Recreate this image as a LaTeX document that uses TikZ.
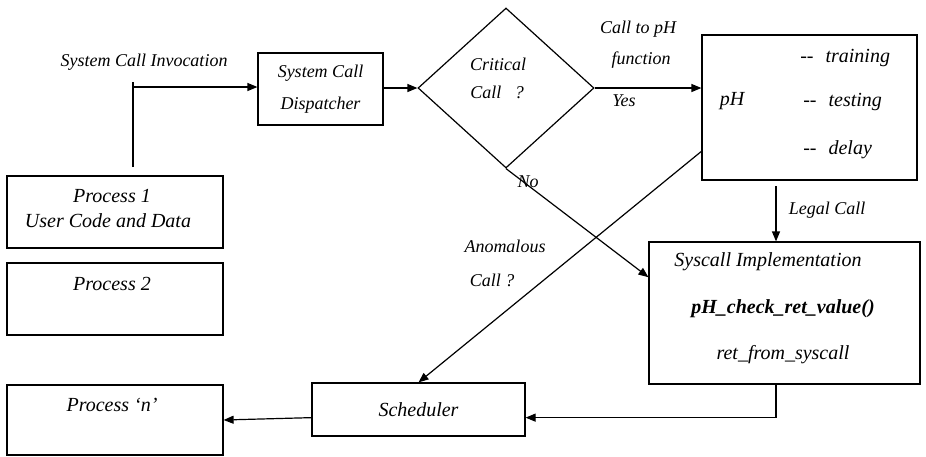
\documentclass[tikz,border=0pt]{standalone}
\usepackage{fontspec}
\setmainfont{Liberation Serif}
\usetikzlibrary{shapes.geometric,arrows.meta,calc}
\begin{document}
\begin{tikzpicture}[x=0.5pt,y=-0.5pt,line width=0.6pt,
    lbl/.style={font=\fontsize{9}{16}\selectfont\itshape},
    txt/.style={font=\fontsize{10}{12}\selectfont\itshape},
    box/.style={draw,inner sep=0pt},
    arr/.style={-{Triangle[length=5pt,width=4pt]}}]
  \useasboundingbox (0,0) rectangle (926,456);
  \node[box,minimum width=108pt,minimum height=36pt] (p1) at (115,212) {};
  \node[box,minimum width=108pt,minimum height=36pt] (p2) at (115,299) {};
  \node[box,minimum width=108pt,minimum height=35pt] (pn) at (115,420) {};
  \node[txt] (p1a) at (112,196) {Process 1};
  \node[txt] (p1b) at (108,221) {User Code and Data};
  \node[txt] (p2a) at (112,284) {Process 2};
  \node[txt] (pna) at (112,405) {Process `n'};
  \node[lbl] (inv) at (144,62) {System Call Invocation};
  \node[box,lbl,align=center,minimum width=62.5pt,minimum height=36pt] (disp) at (320.5,89) {System Call\\Dispatcher};
  \node[draw,diamond,inner sep=0pt,minimum width=88pt,minimum height=80pt] (crit) at (506,88) {};
  \node[lbl] (crita) at (498,64) {Critical};
  \node[lbl] (critb) at (497,92) {Call\ \ \ ?};
  \node[box,minimum width=107.5pt,minimum height=72.5pt] (ph) at (809.5,107.5) {};
  \node[txt] (pha) at (732,101) {pH};
  \node[txt,anchor=west] (train) at (793,58) {{-}{-}\hspace{6pt}training};
  \node[txt,anchor=west] (test) at (796,102) {{-}{-}\hspace{6pt}testing};
  \node[txt,anchor=west] (delay) at (796,150) {{-}{-}\hspace{6pt}delay};
  \node[lbl] (callph) at (638,29) {Call to pH};
  \node[lbl] (func) at (641,60) {function};
  \node[lbl] (yes) at (624,101) {Yes};
  \node[lbl] (no) at (528,182) {No};
  \node[box,minimum width=135.5pt,minimum height=71pt] (sys) at (784.5,313) {};
  \node[txt] (sysa) at (768,262) {Syscall Implementation};
  \node[txt,font=\fontsize{10}{12}\selectfont\bfseries\itshape] (sysb) at (783,309) {pH\_check\_ret\_value()};
  \node[txt] (sysc) at (783,355) {ret\_from\_syscall};
  \node[lbl] (legal) at (827,210) {Legal Call};
  \node[lbl] (anom) at (505,246) {Anomalous};
  \node[lbl] (anomb) at (492,280) {Call ?};
  \node[box,txt,minimum width=106.5pt,minimum height=26.5pt] (sched) at (418.5,409.5) {Scheduler};
  \coordinate (invbot) at (133,167);
  \coordinate (invtop) at (133,82);
  \coordinate (invjoin) at (133,87);
  \coordinate (legtop) at (776,186);
  \draw (invbot) -- (invtop);
  \draw[arr] (invjoin) -- (invjoin -| disp.west);
  \draw[arr] (crit.west -| disp.east) -- (crit.west);
  \draw[arr] (crit.east) -- (crit.east -| ph.west);
  \draw[arr] (crit.south) -- ($(sys.north west)!0.25!(sys.south west)$);
  \draw[arr] ($(ph.north west)!0.8!(ph.south west)$) -- (sched.north);
  \draw[arr] (legtop) -- (legtop |- sys.north);
  \draw[arr] (sys.south -| legtop) |- ($(sched.north east)!0.65!(sched.south east)$);
  \draw[arr] ($(sched.north west)!0.65!(sched.south west)$) -- (pn.east);
\end{tikzpicture}
\end{document}
